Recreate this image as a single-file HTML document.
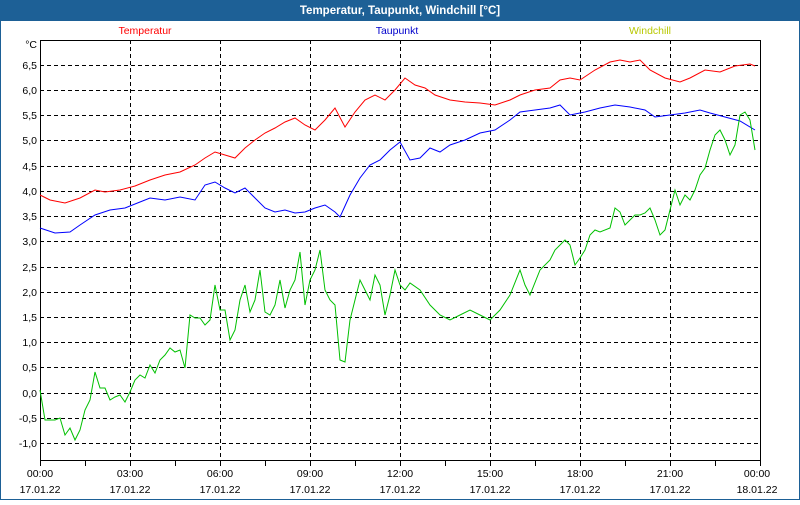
<!DOCTYPE html><html><head><style>body{margin:0;width:800px;height:500px;overflow:hidden;background:#fff;font-family:"Liberation Sans",sans-serif}</style></head><body>
<svg width="800" height="500" xmlns="http://www.w3.org/2000/svg" font-family="Liberation Sans, sans-serif" font-size="10.5">
<rect x="0" y="0" width="800" height="500" fill="#fff"/>
<rect x="0.5" y="0.5" width="799" height="499" fill="none" stroke="#1d6096"/>
<rect x="0" y="0" width="800" height="21" fill="#1d6096"/>
<text x="400" y="14" fill="#fff" font-weight="bold" font-size="11.5" text-anchor="middle">Temperatur, Taupunkt, Windchill [°C]</text>
<text x="145" y="34" fill="#f00" text-anchor="middle">Temperatur</text>
<text x="397" y="34" fill="#00c" text-anchor="middle">Taupunkt</text>
<text x="650" y="34" fill="#b8c800" text-anchor="middle">Windchill</text>
<g stroke="#000" stroke-dasharray="4,3" stroke-width="1">
<path d="M40 65.5H760M40 90.5H760M40 115.5H760M40 140.5H760M40 166.5H760M40 191.5H760M40 216.5H760M40 241.5H760M40 267.5H760M40 292.5H760M40 317.5H760M40 342.5H760M40 367.5H760M40 393.5H760M40 418.5H760M40 443.5H760"/>
<path d="M130.5 40V461M220.5 40V461M310.5 40V461M400.5 40V461M490.5 40V461M580.5 40V461M670.5 40V461"/>
</g>
<rect x="40.5" y="40.5" width="720" height="420" fill="none" stroke="#000"/>
<path stroke="#000" d="M40.5 461V466M85.5 461V466M130.5 461V466M175.5 461V466M220.5 461V466M265.5 461V466M310.5 461V466M355.5 461V466M400.5 461V466M445.5 461V466M490.5 461V466M535.5 461V466M580.5 461V466M625.5 461V466M670.5 461V466M715.5 461V466M760.5 461V466"/>
<g text-anchor="end" fill="#000">
<text x="37" y="48">°C</text>
<text x="37" y="69">6,5</text><text x="37" y="94">6,0</text><text x="37" y="119">5,5</text><text x="37" y="144">5,0</text><text x="37" y="170">4,5</text><text x="37" y="195">4,0</text><text x="37" y="220">3,5</text><text x="37" y="245">3,0</text><text x="37" y="271">2,5</text><text x="37" y="296">2,0</text><text x="37" y="321">1,5</text><text x="37" y="346">1,0</text><text x="37" y="371">0,5</text><text x="37" y="397">0,0</text><text x="37" y="422">-0,5</text><text x="37" y="447">-1,0</text>
</g>
<g text-anchor="middle" fill="#000">
<text x="40" y="477">00:00</text><text x="40" y="493">17.01.22</text>
<text x="130" y="477">03:00</text><text x="130" y="493">17.01.22</text>
<text x="220" y="477">06:00</text><text x="220" y="493">17.01.22</text>
<text x="310" y="477">09:00</text><text x="310" y="493">17.01.22</text>
<text x="400" y="477">12:00</text><text x="400" y="493">17.01.22</text>
<text x="490" y="477">15:00</text><text x="490" y="493">17.01.22</text>
<text x="580" y="477">18:00</text><text x="580" y="493">17.01.22</text>
<text x="670" y="477">21:00</text><text x="670" y="493">17.01.22</text>
<text x="757" y="477">00:00</text><text x="757" y="493">18.01.22</text>
</g>
<polyline fill="none" stroke="#f00" points="40,195 50,200 65,203 80,198 95,190 105,192 120,190 135,186 150,180 165,175 180,172 195,165 205,158 215,152 225,155 235,158 245,148 255,140 265,133 275,128 285,122 295,118 305,125 315,130 325,120 335,108 345,127 355,112 365,100 375,95 385,100 395,90 405,78 415,85 425,88 435,95 450,100 465,102 480,103 495,105 510,100 520,95 535,90 550,88 560,80 570,78 580,80 595,70 610,62 620,60 630,62 640,60 650,70 665,78 680,82 690,78 705,70 720,72 735,66 750,64 755,66"/>
<polyline fill="none" stroke="#00f" points="40,228 55,233 70,232 80,225 95,215 110,210 125,208 140,202 150,198 165,200 180,197 195,200 205,185 215,182 225,188 235,193 245,188 255,198 265,208 275,212 285,210 295,213 305,212 315,208 325,205 335,212 340,217 350,195 360,178 370,165 380,160 390,150 400,142 410,160 420,158 430,148 440,152 450,145 465,140 480,133 495,130 510,120 520,112 535,110 550,108 560,105 570,115 585,112 600,108 615,105 630,107 645,110 655,117 670,115 685,113 700,110 710,113 725,117 740,121 755,130"/>
<polyline fill="none" stroke="#00c000" points="40,390 45,420 55,420 60,418 65,435 70,428 75,440 80,430 85,410 90,400 95,372 100,388 105,388 110,400 115,397 120,395 125,402 130,392 135,380 140,375 145,378 150,365 155,373 160,360 165,355 170,348 175,352 180,350 185,368 190,315 195,318 200,318 205,325 210,320 215,285 220,310 225,310 230,340 235,330 240,300 245,285 250,312 255,300 260,270 265,312 270,315 275,305 280,280 285,308 290,290 295,280 300,252 305,305 310,280 315,270 320,250 325,290 330,300 335,305 340,360 345,362 350,320 355,300 360,280 365,290 370,300 375,275 380,285 385,315 390,295 395,270 400,285 405,290 410,283 420,290 430,305 440,315 450,320 460,315 470,310 480,315 490,320 500,310 510,295 520,270 525,285 530,295 540,270 550,260 555,250 565,240 570,245 575,265 580,258 585,250 590,235 595,230 600,232 610,228 615,208 620,212 625,225 630,220 635,215 640,215 645,213 650,208 655,220 660,235 665,230 670,210 675,190 680,205 685,195 690,200 695,190 700,175 705,168 710,150 715,135 720,130 725,140 730,155 735,145 740,115 745,112 750,120 755,150"/>
</svg>
</body></html>
